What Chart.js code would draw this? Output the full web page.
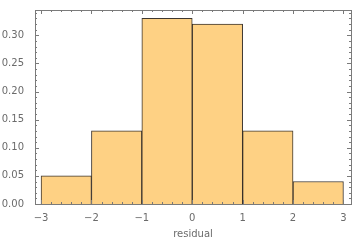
<!DOCTYPE html>
<html>
<head>
<meta charset="utf-8">
<script src="https://cdn.jsdelivr.net/npm/chart.js@4"></script>
<style>
  html, body { margin: 0; padding: 0; background: #fff; }
  #wrap { width: 360px; height: 240px; }
</style>
</head>
<body>
<div id="wrap"><canvas id="histChart"></canvas></div>
<script>
// histogram bins (centres) and heights
const binCenters = [-2.5, -1.5, -0.5, 0.5, 1.5, 2.5];
const binHeights = [0.05, 0.13, 0.33, 0.32, 0.13, 0.04];
const xTicks = [-3, -2, -1, 0, 1, 2, 3];
const yTicks = [0, 0.05, 0.10, 0.15, 0.20, 0.25, 0.30];

const frameColor = '#7a7a7a';
const labelColor = '#6b6b6b';

// frame with inward ticks on all four sides
const frameTicks = {
    id: 'frameTicks',
    afterDraw(chart) {
        const ctx = chart.ctx;
        const a = chart.chartArea;
        const xs = chart.scales.x, ys = chart.scales.y;
        ctx.save();
        ctx.strokeStyle = frameColor;
        ctx.lineWidth = 1;
        ctx.strokeRect(Math.round(a.left) + 0.5, Math.round(a.top) + 0.5,
            Math.round(a.right - a.left), Math.round(a.bottom - a.top));
        ctx.beginPath();
        // x ticks (major every 1, minor every 0.2)
        for (let i = -16; i <= 16; i++) {
            const v = i / 5;
            if (v < xs.min || v > xs.max) continue;
            const px = Math.round(xs.getPixelForValue(v)) + 0.5;
            const len = (i % 5 === 0) ? 4 : 2;
            ctx.moveTo(px, a.bottom); ctx.lineTo(px, a.bottom - len);
            ctx.moveTo(px, a.top); ctx.lineTo(px, a.top + len);
        }
        // y ticks (major every 0.05, minor every 0.01)
        for (let i = 0; i <= 34; i++) {
            const v = i / 100;
            if (v > ys.max) continue;
            const py = Math.round(ys.getPixelForValue(v)) + 0.5;
            const len = (i % 5 === 0) ? 4 : 2;
            ctx.moveTo(a.left, py); ctx.lineTo(a.left + len, py);
            ctx.moveTo(a.right, py); ctx.lineTo(a.right - len, py);
        }
        ctx.stroke();
        ctx.restore();
    }
};

const ctx = document.getElementById('histChart').getContext('2d');
const histChart = new Chart(ctx, {
    type: 'bar',
    data: {
        datasets: [{
            data: binCenters.map((c, i) => ({ x: c, y: binHeights[i] })),
            backgroundColor: 'rgb(254, 209, 132)',
            borderColor: 'rgba(40, 32, 24, 0.9)',
            borderWidth: 1,
            borderSkipped: 'bottom',
            barPercentage: 1,
            categoryPercentage: 1
        }]
    },
    options: {
        responsive: true,
        maintainAspectRatio: false,
        animation: false,
        layout: { padding: { top: 10, right: 9, left: 0, bottom: 0 } },
        plugins: { legend: { display: false }, tooltip: { enabled: false } },
        scales: {
            x: {
                type: 'linear',
                offset: false,
                min: -3.12,
                max: 3.15,
                grid: { display: false, offset: false },
                border: { display: false },
                afterBuildTicks: s => { s.ticks = xTicks.map(v => ({ value: v })); },
                afterFit: s => { s.height = 36; },
                ticks: {
                    color: labelColor,
                    font: { family: 'DejaVu Sans', size: 10 },
                    padding: 0,
                    maxRotation: 0,
                    callback: v => (v < 0 ? '\u2212' + Math.abs(v) : String(v))
                },
                title: {
                    display: true,
                    text: 'residual',
                    color: labelColor,
                    font: { family: 'DejaVu Sans', size: 10 },
                    padding: { top: 6, bottom: 0 }
                }
            },
            y: {
                min: 0,
                max: 0.345,
                grid: { display: false },
                border: { display: false },
                afterBuildTicks: s => { s.ticks = yTicks.map(v => ({ value: v })); },
                afterFit: s => { s.width = 35; },
                ticks: {
                    color: labelColor,
                    font: { family: 'DejaVu Sans', size: 10 },
                    padding: 3,
                    callback: v => v.toFixed(2)
                }
            }
        }
    },
    plugins: [frameTicks]
});
</script>
</body>
</html>
